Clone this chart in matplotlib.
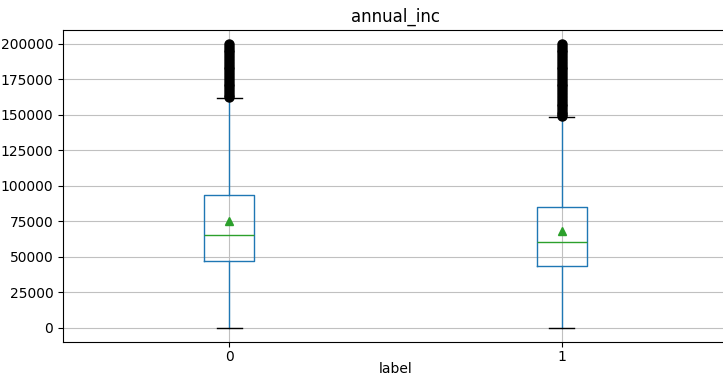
import matplotlib
matplotlib.use('Agg')
import matplotlib.pyplot as plt

labels = ['0', '1']
whislo = [0, 0]
q1 = [47200, 43700]
med = [65400, 60600]
mean = [74900, 68400]
q3 = [93300, 85300]
whishi = [161900, 148500]
# outliers above the upper whisker, packed tight up to the 200000 cap
fliers_0 = [162500, 164000, 166000, 168000, 170000, 172000, 174000, 176000, 178000,
            180000, 182000, 184000, 186000, 188000, 190000, 192000, 194000, 196000,
            198000, 200000]
fliers_1 = [149000, 150500, 152000, 154000, 156000, 158000, 160000, 162000, 164000,
            166000, 168000, 170000, 172000, 174000, 176000, 178000, 180000, 182000,
            184000, 186000, 188000, 190000, 192000, 194000, 196000, 198000, 200000]

stats = []
for i, lab in enumerate(labels):
    stats.append({'label': lab, 'whislo': whislo[i], 'q1': q1[i], 'med': med[i],
                  'mean': mean[i], 'q3': q3[i], 'whishi': whishi[i],
                  'fliers': [fliers_0, fliers_1][i]})

fig = plt.figure(figsize=(7.23, 3.79), dpi=100)
ax = fig.add_axes([63 / 723, 37 / 379, 665 / 723, 312.3 / 379])

ax.bxp(stats, positions=[1, 2], widths=0.15, showmeans=True,
       boxprops=dict(color='C0'), whiskerprops=dict(color='C0'),
       capprops=dict(color='k'), medianprops=dict(color='C2'),
       meanprops=dict(marker='^', markerfacecolor='C2', markeredgecolor='C2'),
       flierprops=dict(marker='o', markerfacecolor='k', markeredgecolor='k', markersize=6.5))

ax.set_xlim(0.5, 2.5)
ax.set_ylim(-10000, 210000)
ax.set_xticks([1, 2])
ax.set_xticklabels(labels)
ax.set_yticks([0, 25000, 50000, 75000, 100000, 125000, 150000, 175000, 200000])
ax.tick_params(axis='x', pad=2)
ax.grid(True, color='#c0c0c0', linewidth=0.8)
ax.set_axisbelow(True)
ax.set_title('annual_inc')
ax.set_xlabel('label', labelpad=-1)

fig.savefig('out.png', dpi=100)
